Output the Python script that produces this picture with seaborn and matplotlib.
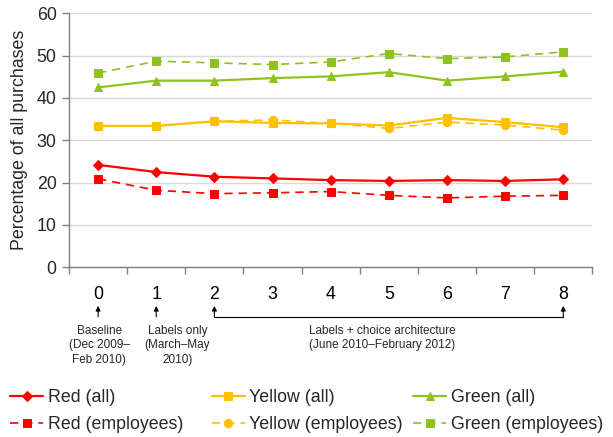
import matplotlib
matplotlib.use("Agg")
import matplotlib.pyplot as plt
import seaborn as sns
import numpy as np
import pandas as pd

periods = list(range(9))
period_labels = ["0", "1", "2", "3", "4", "5", "6", "7", "8"]

red_all = [24.2, 22.5, 21.4, 21.0, 20.6, 20.4, 20.6, 20.4, 20.8]
red_emp = [20.9, 18.2, 17.4, 17.6, 17.9, 17.0, 16.4, 16.8, 17.0]
yellow_all = [33.4, 33.4, 34.5, 34.1, 34.0, 33.5, 35.3, 34.3, 33.1]
yellow_emp = [33.4, 33.4, 34.5, 34.8, 34.0, 32.8, 34.3, 33.6, 32.4]
green_all = [42.5, 44.1, 44.1, 44.7, 45.1, 46.1, 44.1, 45.1, 46.2]
green_emp = [45.9, 48.7, 48.3, 47.9, 48.5, 50.5, 49.3, 49.7, 50.9]

RED = "#FF0000"
YEL = "#FFC000"
GRN = "#8DC21F"

sns.set_theme(style="white")
plt.rcParams["font.family"] = ["Liberation Sans", "DejaVu Sans"]

fig = plt.figure(figsize=(6.13, 4.37), dpi=100)
ax = fig.add_axes([0.1126, 0.3883, 0.8537, 0.5812])

dash = (0, (5, 3.5))
series = [
    ("Red (all)", red_all, RED, "D", "-", 1.6, 5),
    ("Red (employees)", red_emp, RED, "s", dash, 1.2, 5.5),
    ("Yellow (all)", yellow_all, YEL, "s", "-", 1.6, 6),
    ("Yellow (employees)", yellow_emp, YEL, "o", dash, 1.2, 6),
    ("Green (all)", green_all, GRN, "^", "-", 1.6, 6),
    ("Green (employees)", green_emp, GRN, "s", dash, 1.2, 5.5),
]

draw_order = [1, 3, 5, 0, 2, 4]
lines = {}
for i in draw_order:
    name, vals, col, mk, ls, lw, ms = series[i]
    df = pd.DataFrame({"period": periods, "value": vals})
    sns.lineplot(data=df, x="period", y="value", ax=ax, color=col, marker=mk,
                 linestyle=ls, linewidth=lw, markersize=ms,
                 markeredgecolor=col, markerfacecolor=col, label=name,
                 legend=False, zorder=3 + i)
    lines[i] = ax.get_lines()[-1]

ax.set_ylim(0, 60)
ax.set_yticks(range(0, 61, 10))
ax.set_xlim(-0.5, 8.5)
ax.set_xticks(periods)
ax.set_xticklabels(period_labels)
ax.set_xticks(np.arange(-0.5, 9, 1), minor=True)
ax.tick_params(axis="x", which="major", length=0, pad=13.5, labelsize=12.8, colors="black")
ax.tick_params(axis="x", which="minor", length=5, width=1, color="#808080", direction="out", bottom=True)
ax.tick_params(axis="y", which="major", length=5, width=1, color="#808080", direction="out",
               left=True, labelsize=12.8, pad=4)
ax.yaxis.grid(True, color="#D9D9D9", linewidth=1)
ax.xaxis.grid(False)
ax.set_axisbelow(True)
for s in ["top", "right"]:
    ax.spines[s].set_visible(False)
for s in ["left", "bottom"]:
    ax.spines[s].set_color("#808080")
    ax.spines[s].set_linewidth(1)
ax.set_xlabel("")
ax.set_ylabel("Percentage of all purchases", fontsize=12.8, labelpad=6)

tr = ax.get_xaxis_transform()
arrow_kw = dict(arrowstyle="-|>", color="black", lw=0.8, mutation_scale=7, shrinkA=0, shrinkB=0)
for xp in [0, 1, 2, 8]:
    ax.annotate("", xy=(xp, -0.152), xytext=(xp, -0.195), xycoords=tr, textcoords=tr,
                arrowprops=arrow_kw, annotation_clip=False)
ax.plot([2, 8], [-0.195, -0.195], transform=tr, color="black", lw=0.8, clip_on=False)

txt_kw = dict(transform=tr, ha="center", va="top", fontsize=8.5, linespacing=1.3)
ax.text(0.02, -0.226, "Baseline\n(Dec 2009–\nFeb 2010)", **txt_kw)
ax.text(1.365, -0.226, "Labels only\n(March–May\n2010)", **txt_kw)
ax.text(4.89, -0.226, "Labels + choice architecture\n(June 2010–February 2012)", **txt_kw)

col_x = [10 / 613, 211.7 / 613, 413 / 613]
for c in range(3):
    h = [lines[2 * c], lines[2 * c + 1]]
    lab = [series[2 * c][0], series[2 * c + 1][0]]
    leg = fig.legend(h, lab, loc="upper left", bbox_to_anchor=(col_x[c], 0.109), ncol=1,
                     frameon=False, fontsize=12.8, handlelength=1.87, handletextpad=0.25,
                     borderpad=0, borderaxespad=0, labelspacing=0.55)

fig.savefig("out.png", dpi=100)
